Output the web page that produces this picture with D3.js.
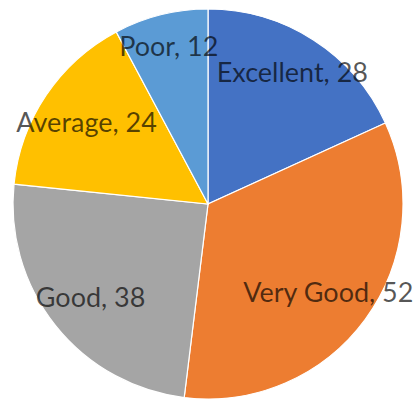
<!DOCTYPE html>
<html><head><meta charset="utf-8">
<script src="https://cdn.jsdelivr.net/npm/d3@7"></script>
<style>html,body{margin:0;padding:0;background:#fff;overflow:hidden}</style>
</head><body>
<svg id="c" width="416" height="399"></svg>
<script>
const categories = ["Excellent", "Very Good", "Good", "Average", "Poor"];
const values = [28, 52, 38, 24, 12];
const colors = ["#4472C4", "#ED7D31", "#A5A5A5", "#FFC000", "#5B9BD5"];
// label distance along each slice's centroid direction (fraction of radius)
const labelRadius = [0.8, 0.765, 0.77, 0.75, 0.83];

const data = categories.map((c, i) => ({cat: c, val: values[i], color: colors[i], lr: labelRadius[i]}));
const cx = 208, cy = 204, r = 195;
const svg = d3.select("#c");
const g = svg.append("g").attr("transform", `translate(${cx},${cy})`);
const pie = d3.pie().sort(null).value(d => d.val);
const arc = d3.arc().innerRadius(0).outerRadius(r);
const arcs = pie(data);
g.selectAll("path").data(arcs).join("path")
  .attr("d", arc).attr("fill", d => d.data.color)
  .attr("stroke", "#fff").attr("stroke-width", 1.2);

g.selectAll("text").data(arcs).join("text")
  .attr("transform", d => {
    const a = (d.startAngle + d.endAngle) / 2;
    const rr = r * d.data.lr;
    return `translate(${Math.sin(a) * rr},${-Math.cos(a) * rr})`;
  })
  .attr("text-anchor", "middle").attr("dy", "0.35em")
  .attr("font-family", "Lato, sans-serif").attr("font-size", 27)
  .attr("fill", "#000").attr("fill-opacity", 0.66)
  .text(d => `${d.data.cat}, ${d.data.val}`);
</script>
</body></html>
